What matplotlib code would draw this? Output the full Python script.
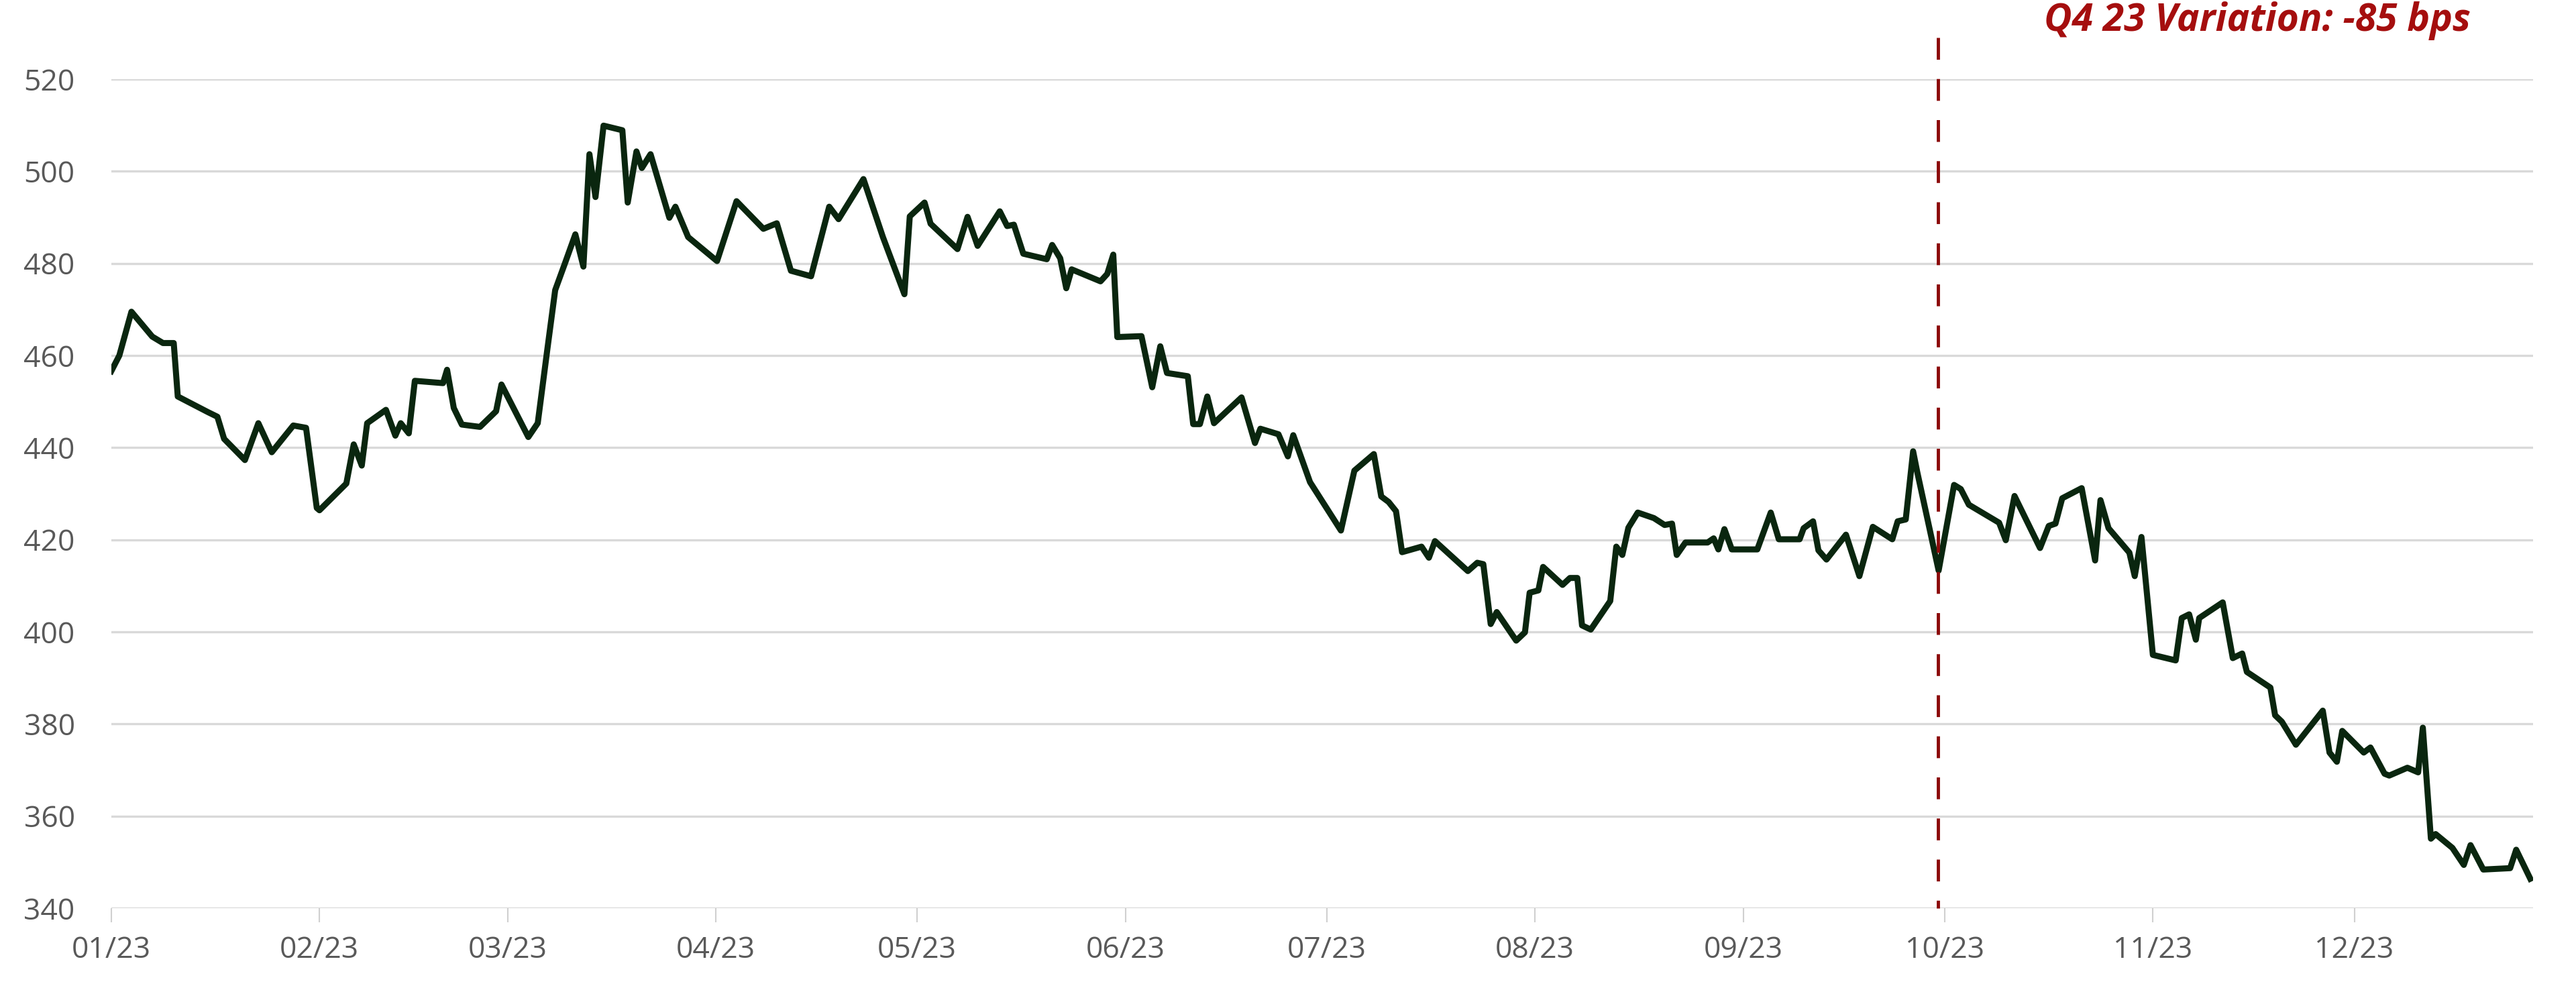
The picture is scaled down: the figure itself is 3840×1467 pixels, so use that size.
import matplotlib
matplotlib.use("Agg")
import matplotlib.pyplot as plt
import matplotlib.dates as mdates
import pandas as pd

# spread in bps; x = days since 01/01/2023
days = [0.0, 1.2, 3.0, 6.1, 7.7, 9.3, 9.9, 14.4, 15.8, 16.8, 19.9, 21.9, 23.9, 27.1, 29.0,
        30.6, 31.0, 35.0, 36.1, 37.3, 38.1, 40.9, 42.3, 43.1, 44.3, 45.2, 49.4, 50.0, 51.0,
        52.2, 54.9, 57.3, 58.1, 62.1, 63.5, 64.9, 66.1, 67.6, 69.1, 70.3, 71.2, 72.1, 73.3,
        76.1, 76.9, 78.2, 79.0, 80.3, 83.1, 84.0, 85.9, 90.2, 93.1, 97.1, 99.1, 101.2, 104.2,
        106.9, 108.3, 112.0, 114.9, 118.1, 118.9, 121.1, 122.0, 126.0, 127.5, 129.0, 132.3,
        133.4, 134.4, 135.8, 139.3, 140.1, 141.3, 142.2, 143.0, 147.3, 148.3, 149.2, 149.8,
        153.4, 155.0, 156.2, 157.2, 160.3, 161.1, 162.1, 163.2, 164.2, 168.3, 170.3, 171.1,
        173.8, 175.2, 176.0, 178.5, 183.1, 185.1, 188.0, 189.1, 190.2, 191.3, 192.2, 195.1,
        196.2, 197.1, 202.0, 203.4, 204.3, 205.4, 206.3, 209.2, 210.5, 211.2, 212.5, 213.2,
        216.1, 217.2, 218.3, 219.0, 220.3, 223.2, 224.1, 225.0, 225.9, 227.3, 229.7, 231.3,
        232.4, 233.1, 234.4, 237.7, 238.6, 239.3, 240.2, 241.3, 245.1, 247.1, 248.3, 251.4,
        252.0, 253.4, 254.2, 255.4, 258.3, 260.3, 262.3, 265.2, 266.0, 267.2, 268.3, 268.9,
        272.1, 274.4, 275.4, 276.6, 281.1, 282.1, 283.4, 287.2, 288.5, 289.5, 290.5, 293.4,
        295.4, 296.2, 297.4, 300.5, 301.3, 302.3, 304.0, 307.4, 308.3, 309.4, 310.4, 310.9,
        314.4, 315.9, 317.3, 318.0, 321.5, 322.2, 323.2, 325.3, 329.3, 330.3, 331.4, 332.2,
        335.4, 336.4, 338.5, 339.2, 341.9, 343.5, 344.2, 345.4, 346.1, 348.6, 350.3, 351.3,
        353.2, 357.2, 358.1, 360.2]
spread = [456.6, 460.0, 469.5, 464.1, 462.7, 462.7, 451.1, 447.7, 446.7, 441.9, 437.3, 445.3,
          439.0, 444.8, 444.3, 426.9, 426.4, 432.2, 440.7, 436.1, 445.3, 448.2, 442.6, 445.3,
          443.1, 454.5, 454.0, 456.9, 448.6, 445.0, 444.5, 447.9, 453.7, 442.3, 445.3, 461.0,
          474.2, 480.2, 486.3, 479.3, 503.7, 494.4, 509.9, 508.9, 493.2, 504.3, 500.7, 503.7,
          489.9, 492.3, 485.7, 480.5, 493.5, 487.5, 488.7, 478.4, 477.2, 492.3, 489.6, 498.3,
          485.7, 473.3, 490.2, 493.2, 488.6, 483.1, 490.1, 483.8, 491.3, 488.1, 488.4, 482.1,
          480.9, 484.0, 481.1, 474.6, 478.7, 476.1, 477.7, 481.9, 464.0, 464.2, 453.1, 462.0,
          456.2, 455.5, 445.1, 445.1, 451.1, 445.3, 450.9, 441.0, 444.1, 442.9, 438.1, 442.7,
          432.5, 422.0, 435.0, 438.6, 429.4, 428.2, 426.2, 417.3, 418.5, 416.1, 419.7, 413.2,
          415.0, 414.7, 401.7, 404.3, 398.1, 399.9, 408.5, 409.0, 414.1, 410.2, 411.7, 411.7,
          401.4, 400.5, 406.7, 418.5, 416.7, 422.6, 425.9, 424.7, 423.2, 423.5, 416.7, 419.4,
          419.4, 420.3, 417.9, 422.3, 417.9, 417.9, 425.9, 420.1, 420.1, 422.5, 424.0, 417.7,
          415.7, 421.1, 412.1, 422.8, 420.1, 424.0, 424.4, 439.2, 434.8, 413.3, 431.9, 431.0,
          427.6, 423.7, 419.9, 429.5, 418.2, 423.0, 423.5, 429.0, 431.2, 415.5, 428.6, 422.5,
          417.2, 412.1, 420.6, 395.0, 393.8, 403.0, 403.8, 398.3, 403.0, 406.4, 394.3, 395.3,
          391.3, 387.9, 381.9, 380.5, 375.5, 382.9, 373.8, 371.8, 378.5, 373.8, 374.9, 369.2,
          368.8, 370.5, 369.5, 379.2, 355.1, 356.1, 353.1, 349.4, 353.7, 348.4, 348.7, 352.7,
          346.4]

start = pd.Timestamp("2023-01-01")
dates = start + pd.to_timedelta(days, unit="D")
q4_start = pd.Timestamp("2023-09-30")
note = "Q4 23 Variation: -85 bps"
y_ticks = list(range(340, 521, 20))
month_ticks = pd.date_range("2023-01-01", "2023-12-01", freq="MS")

plt.rcParams["font.family"] = ["Open Sans", "DejaVu Sans"]

fig = plt.figure(figsize=(38.4, 14.67), dpi=100)
ax = fig.add_axes([0.0432, 0.0770, 0.9401, 0.8426])

ax.plot(dates, spread, color="#0a260f", lw=6.5)

# start of Q4 marker, runs a bit above the plot area
ax.plot([q4_start, q4_start], [529, 340], color="#8b0a0a", lw=3.5,
        dashes=(6.7, 5.9), clip_on=False)

ax.set_ylim(340, 520)
ax.set_xlim(start, start + pd.Timedelta(days=360.6))
ax.set_yticks(y_ticks)
ax.set_xticks(month_ticks)
ax.xaxis.set_major_formatter(mdates.DateFormatter("%m/%y"))

ax.yaxis.grid(True, color="#d9d9d9", lw=2.4)
ax.set_axisbelow(True)
for s in ax.spines.values():
    s.set_visible(False)

ax.tick_params(axis="y", length=0, pad=39, labelsize=32, labelcolor="#595959")
ax.tick_params(axis="x", length=15, width=1.5, color="#d0d0d0", pad=14,
               labelsize=32, labelcolor="#595959")

fig.text(0.8763, 0.979, note, ha="center", va="center", fontsize=41,
         fontweight="bold", style="italic", color="#a50e0e")

fig.savefig("out.png", dpi=100)
